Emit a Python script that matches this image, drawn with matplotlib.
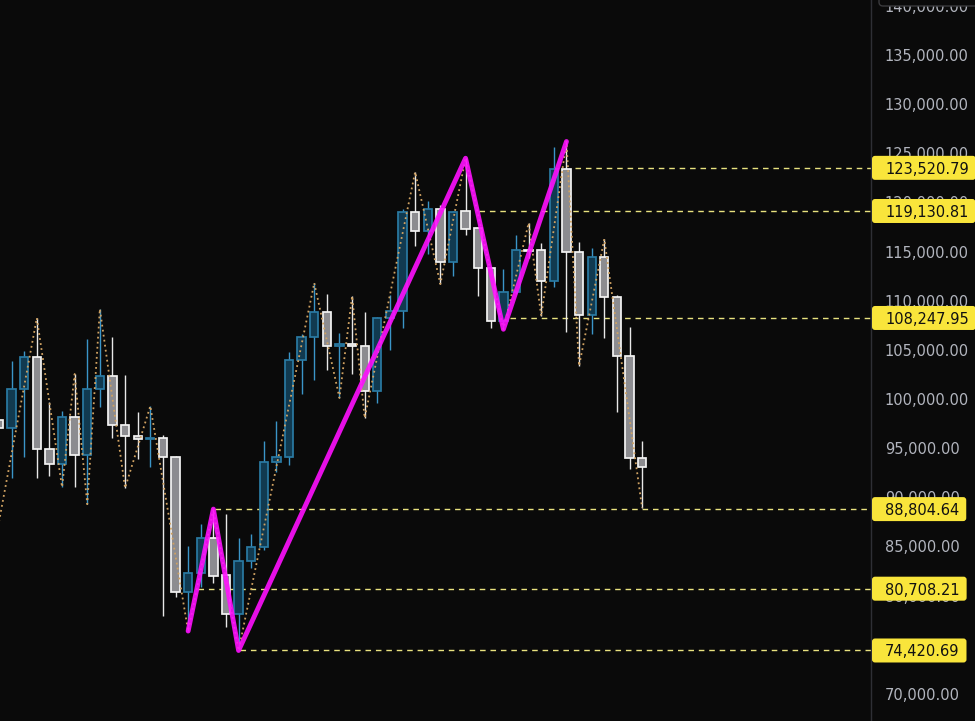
import matplotlib
matplotlib.use('Agg')
import matplotlib.pyplot as plt
import matplotlib.transforms as mtransforms
from matplotlib.patches import FancyBboxPatch
from matplotlib.ticker import FuncFormatter

# weekly candles
opens = [97870, 97055, 101020, 104280, 94920, 93390, 98170, 94310, 101020, 102350,
         97360, 96240, 95940, 96040, 94100, 80370, 82300, 85860, 82100, 78130,
         83530, 84950, 93600, 94100, 103970, 106310, 108860, 105400, 105600, 105400,
         100820, 108250, 108960, 119030, 117100, 119330, 113940, 119130, 117400, 113330,
         107940, 110890, 115160, 115160, 112010, 123400, 114960, 108550, 114450, 110380,
         104380, 94000]
highs = [98900, 103870, 104890, 108245, 99700, 98790, 102550, 106110, 109160, 106310,
         102450, 98680, 99290, 96340, 94210, 85050, 87290, 88800, 88310, 85860,
         86270, 95730, 97770, 104790, 106620, 111810, 110690, 106720, 110480, 108860,
         108350, 110590, 119330, 123100, 120150, 119740, 119130, 124500, 117500, 113400,
         113230, 116690, 117910, 115880, 125640, 126200, 115980, 115370, 116280, 110590,
         107330, 95730]
lows = [90800, 91970, 94100, 91970, 92170, 91050, 91050, 89300, 99190, 96040,
        90950, 93900, 93090, 77930, 79860, 76400, 80880, 81290, 76810, 74420,
        82810, 84640, 92580, 93300, 100510, 101940, 102960, 100110, 102550, 98070,
        99600, 104990, 107230, 115570, 114760, 111700, 112520, 116690, 110480, 107230,
        107100, 110700, 114350, 108450, 111400, 106820, 103360, 106620, 106210, 98680,
        92880, 88920]
closes = [97055, 101020, 104280, 94920, 93390, 98170, 94310, 101020, 102350, 97360,
          96240, 95940, 96000, 94100, 80370, 82300, 85860, 82000, 78130, 83530,
          84950, 93600, 94100, 103970, 106310, 108860, 105400, 105600, 105400, 100820,
          108250, 108960, 119030, 117100, 119330, 113940, 119030, 117300, 113330, 107940,
          110890, 115160, 115100, 112010, 123400, 114960, 108550, 114450, 110380, 104380,
          94000, 93090]

# small zigzag (dotted) pivots: candle index, price
zz_idx = [-3, 3, 5, 6, 7, 8, 10, 12, 15, 17, 19, 25, 27, 28, 29, 33, 35, 37, 40, 42, 43, 45, 46, 48, 51]
zz_price = [66800, 108245, 91050, 102550, 89300, 109160, 90950, 99290, 76400, 88800,
            74420, 111810, 100110, 110480, 98070, 123100, 111700, 124500, 107100, 117910,
            108450, 126200, 103360, 116280, 88920]

# big zigzag (magenta)
big_idx = [15, 17, 19, 37, 40, 45]
big_price = [76400, 88804.64, 74420.69, 124500, 107100, 126200]

# horizontal levels and where they start
levels = [123520.79, 119130.81, 108247.95, 88804.64, 80708.21, 74420.69]
level_start = [45.7, 38.1, 40.5, 17.1, 15.8, 19.1]

BG = '#0a0a0a'
BULL_FILL, BULL_EDGE, BULL_WICK = '#113a50', '#2a7aa3', '#3b95c8'
BEAR_FILL, BEAR_EDGE, BEAR_WICK = '#8c8c90', '#f4f4f4', '#e8e8e8'
LEVEL_COL = '#e9e27f'
BOX_COL = '#f9e53b'

fig = plt.figure(figsize=(9.75, 7.21), dpi=100, facecolor=BG)
ax = fig.add_axes([0, 0, 871 / 975, 1], facecolor=BG)

xs = list(range(len(opens)))
up = [c >= o for o, c in zip(opens, closes)]
for is_up, fill, edge, wick in [(True, BULL_FILL, BULL_EDGE, BULL_WICK),
                                (False, BEAR_FILL, BEAR_EDGE, BEAR_WICK)]:
    sel = [i for i in xs if up[i] == is_up]
    ax.vlines(sel, [lows[i] for i in sel], [highs[i] for i in sel],
              color=wick, lw=1.0, zorder=2)
    ax.bar(sel, [abs(closes[i] - opens[i]) for i in sel],
           bottom=[min(opens[i], closes[i]) for i in sel],
           width=0.66, color=fill, edgecolor=edge, linewidth=1.25, zorder=3)

ax.hlines(levels, level_start, 70, colors=LEVEL_COL, lw=1.0,
          linestyles=(0, (4, 3.5)), zorder=1)

ax.plot(zz_idx, zz_price, color='#d0a262', lw=1.3, ls=(0, (1, 1.8)), zorder=4)
ax.plot(big_idx, big_price, color='#ff10ff', lw=3.5, alpha=0.9,
        solid_capstyle='round', solid_joinstyle='round', zorder=5)

ax.set_xlim(0.08, 69.15)
ax.set_ylim(67248, 140595)
ax.set_xticks([])
ax.set_yticks(range(70000, 140001, 5000))
ax.yaxis.set_major_formatter(FuncFormatter(lambda v, p: f'{v:,.2f}'))
ax.yaxis.tick_right()
ax.tick_params(axis='y', length=0, pad=10, labelsize=10.5, labelcolor='#b2b5be')
for s in ['top', 'left', 'bottom']:
    ax.spines[s].set_visible(False)
ax.spines['right'].set_color('#2e2f35')
ax.spines['right'].set_linewidth(1.0)

# top-right button (covers the top of the 140,000 label)
top_btn = FancyBboxPatch((879, 715), 110, 22, boxstyle='round,pad=0,rounding_size=4',
                         transform=mtransforms.IdentityTransform(),
                         fc=BG, ec='#3a3a3d', lw=1.0, zorder=5)
fig.add_artist(top_btn)

# yellow price boxes
fig.canvas.draw()
rend = fig.canvas.get_renderer()
for lvl in levels:
    yd = ax.transData.transform((0, lvl))[1]
    t = fig.text(885 / 975, yd / 721, f'{lvl:,.2f}', color='#111111', fontsize=10.5,
                 va='center_baseline', ha='left', zorder=4)
    bb = t.get_window_extent(rend)
    fig.patches.append(FancyBboxPatch((872, yd - 12), bb.x1 + 7 - 872, 24,
                                      boxstyle='round,pad=0,rounding_size=3',
                                      transform=mtransforms.IdentityTransform(),
                                      fc=BOX_COL, ec='none', zorder=2))

fig.savefig('out.png', dpi=100, facecolor=BG)
